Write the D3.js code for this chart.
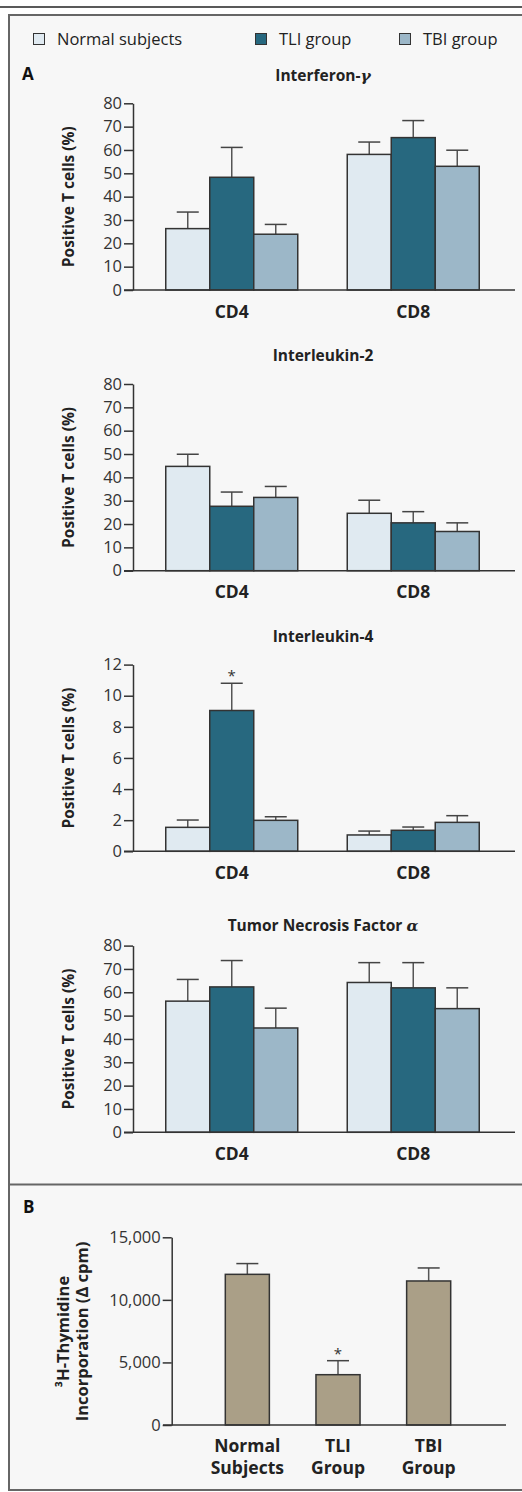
<!DOCTYPE html>
<html>
<head>
<meta charset="utf-8">
<script src="https://cdn.jsdelivr.net/npm/d3@7"></script>
<style>
  html, body { margin: 0; padding: 0; background: #ffffff; }
  svg { display: block; font-family: "Open Sans", "Noto Sans", sans-serif; }
</style>
</head>
<body>
<script>
// ---------- DATA ----------
const series = ["Normal subjects", "TLI group", "TBI group"];
const categories = ["CD4", "CD8"];

// mean values [CD4 x 3 series], [CD8 x 3 series]
const ifnMean = [[26.3, 48.3, 23.9], [58.1, 65.3, 53.0]];
const ifnErr  = [[7.1, 12.8, 4.2], [5.3, 7.3, 6.9]];
const il2Mean = [[44.7, 27.6, 31.4], [24.6, 20.5, 16.8]];
const il2Err  = [[5.2, 6.1, 4.7], [5.6, 4.8, 3.7]];
const il4Mean = [[1.54, 9.05, 1.99], [1.05, 1.35, 1.86]];
const il4Err  = [[0.47, 1.75, 0.23], [0.25, 0.21, 0.43]];
const tnfMean = [[56.2, 62.3, 44.7], [64.2, 61.9, 53.0]];
const tnfErr  = [[9.3, 11.3, 8.5], [8.5, 10.8, 8.9]];

const pctTicks = [0, 10, 20, 30, 40, 50, 60, 70, 80];
const il4Ticks = [0, 2, 4, 6, 8, 10, 12];

const bGroups = [["Normal", "Subjects"], ["TLI", "Group"], ["TBI", "Group"]];
const bMean = [12040, 4020, 11510];
const bErr  = [860, 1120, 1040];
const bTicks = [0, 5000, 10000, 15000];

const colors = ["#e0eaf1", "#27687f", "#9cb7c8"];
const tan = "#aa9f87";

// ---------- SVG ----------
const W = 522, H = 1492;
const svg = d3.select("body").append("svg").attr("width", W).attr("height", H);

svg.append("line").attr("x1", 0).attr("x2", W).attr("y1", 7).attr("y2", 7)
  .attr("stroke", "#222").attr("stroke-width", 1.5);
svg.append("rect").attr("x", 9).attr("y", 15).attr("width", 540).attr("height", 1475)
  .attr("fill", "#f7f7f7").attr("stroke", "#666").attr("stroke-width", 2);
svg.append("line").attr("x1", 9).attr("x2", W).attr("y1", 1184.5).attr("y2", 1184.5)
  .attr("stroke", "#666").attr("stroke-width", 2);

// Legend
const legX = [33, 255, 399];
series.forEach((s, i) => {
  svg.append("rect").attr("x", legX[i] + 0.5).attr("y", 33.5).attr("width", 11).attr("height", 11)
    .attr("fill", colors[i]).attr("stroke", "#333").attr("stroke-width", 1);
  svg.append("text").attr("x", legX[i] + 24).attr("y", 44.5).text(s)
    .attr("font-size", 16.5).attr("fill", "#222");
});

svg.append("text").attr("x", 22).attr("y", 79.5).text("A")
  .attr("font-size", 17).attr("font-weight", 700).attr("fill", "#111");

// ---------- Panel A charts ----------
const x = d3.scaleBand().domain(categories).range([141, 504]).padding(0);
const groupW = 132;
const xi = d3.scaleBand().domain(series).range([0, groupW]);

function chart(cfg) {
  const g = svg.append("g");
  const y = d3.scaleLinear().domain([0, cfg.max]).range([cfg.y0, cfg.y0 - 186.7]);

  // title
  const t = g.append("text").attr("x", 323).attr("y", cfg.titleY)
    .attr("text-anchor", "middle").attr("font-size", 15.5).attr("font-weight", 700).attr("fill", "#222");
  t.append("tspan").text(cfg.title);
  if (cfg.greek) t.append("tspan").text(cfg.greek).attr("font-style", "italic")
    .attr("font-family", "DejaVu Serif").attr("font-weight", 700);

  // bars
  categories.forEach((c, ci) => {
    const off = x(c) + (x.bandwidth() - groupW) / 2;
    series.forEach((s, si) => {
      const v = cfg.mean[ci][si], e = cfg.err[ci][si];
      const cx = off + xi(s) + xi.bandwidth() / 2;
      g.append("line").attr("x1", cx).attr("x2", cx).attr("y1", y(v)).attr("y2", y(v + e))
        .attr("stroke", "#555").attr("stroke-width", 1.5);
      g.append("line").attr("x1", cx - 11).attr("x2", cx + 11).attr("y1", y(v + e)).attr("y2", y(v + e))
        .attr("stroke", "#444").attr("stroke-width", 1.5);
      g.append("rect").attr("x", off + xi(s)).attr("y", y(v))
        .attr("width", xi.bandwidth()).attr("height", y(0) - y(v))
        .attr("fill", colors[si]).attr("stroke", "#333").attr("stroke-width", 1.5);
      if (cfg.star && cfg.star[0] === ci && cfg.star[1] === si) {
        g.append("text").attr("x", cx).attr("y", y(v + e) - 2).attr("text-anchor", "middle")
          .attr("font-size", 15).attr("fill", "#333").text("*");
      }
    });
    g.append("text").attr("x", x(c) + x.bandwidth() / 2).attr("y", cfg.y0 + 27.5)
      .attr("text-anchor", "middle").attr("font-size", 17.5).attr("font-weight", 700)
      .attr("fill", "#222").text(c);
  });

  // axes
  const ax = g.append("g").attr("transform", "translate(133,0)")
    .call(d3.axisLeft(y).tickValues(cfg.ticks).tickSize(9).tickSizeOuter(0).tickPadding(2));
  ax.select(".domain").attr("stroke", "#333").attr("stroke-width", 1.5);
  ax.selectAll(".tick line").attr("stroke", "#333").attr("stroke-width", 1.5);
  ax.selectAll(".tick text").attr("font-size", 16.5).attr("fill", "#333")
    .attr("font-family", "Open Sans, sans-serif");
  g.append("line").attr("x1", 124).attr("x2", 515).attr("y1", cfg.y0).attr("y2", cfg.y0)
    .attr("stroke", "#333").attr("stroke-width", 1.5);

  g.append("text").attr("transform", `translate(73.5,${cfg.y0 - 93.3}) rotate(-90)`)
    .attr("text-anchor", "middle").attr("font-size", 15.5).attr("font-weight", 700)
    .attr("fill", "#222").text("Positive T cells (%)");
}

chart({ title: "Interferon-", greek: "γ", titleY: 80.5, y0: 290, max: 80, ticks: pctTicks, mean: ifnMean, err: ifnErr });
chart({ title: "Interleukin-2", titleY: 361, y0: 570.7, max: 80, ticks: pctTicks, mean: il2Mean, err: il2Err });
chart({ title: "Interleukin-4", titleY: 641.5, y0: 851.3, max: 12, ticks: il4Ticks, mean: il4Mean, err: il4Err, star: [0, 1] });
chart({ title: "Tumor Necrosis Factor ", greek: "α", titleY: 931, y0: 1132.3, max: 80, ticks: pctTicks, mean: tnfMean, err: tnfErr });

// ---------- Panel B ----------
svg.append("text").attr("x", 23).attr("y", 1213).text("B")
  .attr("font-size", 17).attr("font-weight", 700).attr("fill", "#111");

const gb = svg.append("g");
const xb = d3.scaleBand().domain(bGroups.map(d => d.join(" "))).range([202, 474])
  .paddingInner(0.514).paddingOuter(0.257);
const yb = d3.scaleLinear().domain([0, 15000]).range([1425, 1237.3]);

bGroups.forEach((grp, i) => {
  const key = grp.join(" ");
  const v = bMean[i], e = bErr[i];
  const cx = xb(key) + xb.bandwidth() / 2;
  gb.append("line").attr("x1", cx).attr("x2", cx).attr("y1", yb(v)).attr("y2", yb(v + e))
    .attr("stroke", "#555").attr("stroke-width", 1.5);
  gb.append("line").attr("x1", cx - 11).attr("x2", cx + 11).attr("y1", yb(v + e)).attr("y2", yb(v + e))
    .attr("stroke", "#444").attr("stroke-width", 1.5);
  gb.append("rect").attr("x", xb(key)).attr("y", yb(v)).attr("width", xb.bandwidth())
    .attr("height", yb(0) - yb(v)).attr("fill", tan).attr("stroke", "#333").attr("stroke-width", 1.5);
  if (i === 1) {
    gb.append("text").attr("x", cx).attr("y", yb(v + e) - 2).attr("text-anchor", "middle")
      .attr("font-size", 15).attr("fill", "#333").text("*");
  }
  grp.forEach((line, li) => {
    gb.append("text").attr("x", cx).attr("y", 1452 + li * 22).attr("text-anchor", "middle")
      .attr("font-size", 17.5).attr("font-weight", 700).attr("fill", "#222").text(line);
  });
});

const axb = gb.append("g").attr("transform", "translate(171.7,0)")
  .call(d3.axisLeft(yb).tickValues(bTicks).tickSize(9).tickSizeOuter(0).tickPadding(2)
    .tickFormat(d3.format(",")));
axb.select(".domain").attr("stroke", "#333").attr("stroke-width", 1.5);
axb.selectAll(".tick line").attr("stroke", "#333").attr("stroke-width", 1.5);
axb.selectAll(".tick text").attr("font-size", 16.5).attr("fill", "#333")
  .attr("font-family", "Open Sans, sans-serif");
gb.append("line").attr("x1", 163).attr("x2", 506).attr("y1", 1425).attr("y2", 1425)
  .attr("stroke", "#333").attr("stroke-width", 1.5);

const yl = gb.append("text").attr("transform", "translate(68.5,1331.5) rotate(-90)")
  .attr("text-anchor", "middle").attr("font-size", 16.5).attr("font-weight", 700).attr("fill", "#222");
yl.append("tspan").attr("x", 0).attr("dy", 0).text("³H-Thymidine");
yl.append("tspan").attr("x", 0).attr("dy", 19).text("Incorporation (Δ cpm)");
</script>
</body>
</html>
